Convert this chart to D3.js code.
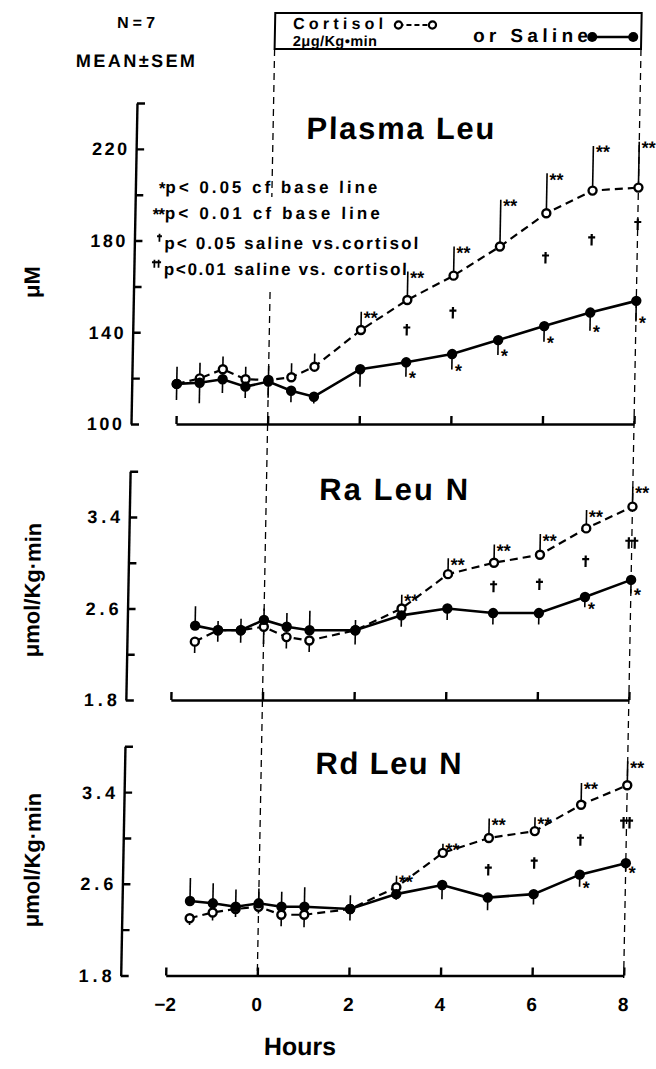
<!DOCTYPE html>
<html>
<head>
<meta charset="utf-8">
<script src="https://cdn.jsdelivr.net/npm/d3@7"></script>
<style>
body { margin: 0; background: #fff; }
text { font-family: "Liberation Sans", Arial, Helvetica, sans-serif; font-weight: bold; fill: #000; }
</style>
</head>
<body>
<svg id="chart" width="656" height="1069"></svg>
<script>
// time points (hours)
const hoursLeu = [-2, -1.5, -1, -0.5, 0, 0.5, 1, 2, 3, 4, 5, 6, 7, 8];
const hoursFlux = [-1.5, -1, -0.5, 0, 0.5, 1, 2, 3, 4, 5, 6, 7, 8];
const xTicks = [-2, 0, 2, 4, 6, 8];

// Plasma Leu (uM)
const leuSaline = [117.5, 118.0, 119.5, 116.3, 118.5, 114.5, 111.9, 123.9, 126.9, 130.5, 136.6, 142.7, 148.6, 153.7];
const leuSalineSem = [7, 9, 6, 5, 7, 5, 3, 7.6, 6.3, 6.7, 6.5, 6.8, 7.9, 9];
const leuSalineDir = [-1, -1, -1, -1, -1, -1, -1, -1, -1, -1, -1, -1, -1, -1];
const leuCortisol = [117.5, 119.9, 123.9, 119.5, 119.2, 120.4, 125.0, 141.0, 154.1, 164.7, 177.4, 191.9, 201.8, 203.1];
const leuCortisolSem = [7.5, 6.8, 5.5, 5.5, 6.1, 6.1, 5.8, 8, 12.4, 12.7, 20.4, 17.5, 19.5, 20];
const leuCortisolDir = [1, 1, 1, 1, 1, 1, 1, 1, 1, 1, 1, 1, 1, 1];
const leuCortStars = [2, 3, 4, 5, 6, 7, 8];
const leuSalStars = [3, 4, 5, 6, 7, 8];
const leuDaggerT = [3, 4, 6, 7, 8];
const leuDaggerV = [141, 148.4, 172.4, 180.3, 187];
const leuDaggerN = [1, 1, 1, 1, 1];

// Ra Leu N (umol/Kg.min)
const raSaline = [2.45, 2.41, 2.41, 2.50, 2.44, 2.41, 2.41, 2.54, 2.60, 2.56, 2.56, 2.70, 2.85];
const raSalineSem = [0.17, 0.08, 0.10, 0.10, 0.12, 0.17, 0.09, 0.10, 0.10, 0.10, 0.10, 0.09, 0.12];
const raSalineDir = [1, 1, 1, 1, 1, 1, 1, -1, -1, -1, -1, -1, -1];
const raCortisol = [2.31, 2.41, 2.41, 2.44, 2.35, 2.32, 2.41, 2.60, 2.90, 3.00, 3.07, 3.30, 3.49];
const raCortisolSem = [0.10, 0.10, 0.11, 0.15, 0.10, 0.10, 0.125, 0.12, 0.14, 0.16, 0.18, 0.16, 0.175];
const raCortisolDir = [-1, -1, -1, -1, -1, -1, -1, 1, 1, 1, 1, 1, 1];
const raCortStars = [3, 4, 5, 6, 7, 8];
const raSalStars = [7, 8];
const raDaggerT = [5, 6, 7, 8];
const raDaggerV = [2.79, 2.81, 3.01, 3.17];
const raDaggerN = [1, 1, 1, 2];

// Rd Leu N (umol/Kg.min)
const rdSaline = [2.45, 2.43, 2.40, 2.43, 2.40, 2.40, 2.38, 2.51, 2.59, 2.48, 2.51, 2.68, 2.78];
const rdSalineSem = [0.20, 0.175, 0.15, 0.13, 0.13, 0.17, 0.12, 0.05, 0.125, 0.11, 0.09, 0.105, 0.07];
const rdSalineDir = [1, 1, 1, 1, 1, 1, 1, -1, -1, -1, -1, -1, -1];
const rdCortisol = [2.30, 2.35, 2.38, 2.40, 2.33, 2.33, 2.38, 2.57, 2.87, 3.00, 3.06, 3.29, 3.46];
const rdCortisolSem = [0.06, 0.07, 0.07, 0.06, 0.10, 0.11, 0.10, 0.10, 0.08, 0.17, 0.12, 0.19, 0.21];
const rdCortisolDir = [-1, -1, -1, -1, -1, -1, -1, 1, 1, 1, 1, 1, 1];
const rdCortStars = [3, 4, 5, 6, 7, 8];
const rdSalStars = [7, 8];
const rdDaggerT = [5, 6, 7, 8];
const rdDaggerV = [2.72, 2.78, 2.98, 3.13];
const rdDaggerN = [1, 1, 1, 2];

// significance notes: star mark or number of daggers, then the text
const noteMarks = ['*', '**', 1, 2];
const noteTexts = ['p< 0.05  cf base line', 'p< 0.01  cf base line',
                   'p< 0.05  saline  vs.cortisol', 'p<0.01  saline  vs. cortisol'];

const svg = d3.select('#chart');
svg.append('rect').attr('width', 656).attr('height', 1069).attr('fill', '#fff');
// the scan is a little sheared, so draw everything in a slightly skewed frame
const root = svg.append('g').attr('transform', 'translate(7.92,0) skewX(-1.07)');

const x = d3.scaleLinear().domain([-2, 8]).range([176, 634]);
const axisPos = 131;

const panels = [
    {title: 'Plasma Leu', titleY: 139, titleLen: 188, domain: [100, 240], top: 103, bottom: 424,
     ticks: d3.range(100, 241, 20), labels: [100, 140, 180, 220], fmt: d3.format('d'), labelLen: 35,
     unit: 'μM', unitY: 282, unitX: 37,
     hours: hoursLeu, sal: leuSaline, salSem: leuSalineSem, salDir: leuSalineDir,
     cort: leuCortisol, cortSem: leuCortisolSem, cortDir: leuCortisolDir,
     cortStars: leuCortStars, salStars: leuSalStars, dagT: leuDaggerT, dagV: leuDaggerV, dagN: leuDaggerN},
    {title: 'Ra Leu N', titleY: 500, titleLen: 149, domain: [1.8, 3.8], top: 471.2, bottom: 700,
     ticks: [1.8, 2.2, 2.6, 3.0, 3.4, 3.8], labels: [1.8, 2.6, 3.4], fmt: d3.format('.1f'), labelLen: 33,
     unit: 'μmol/Kg·min', unitY: 590, unitX: 43,
     hours: hoursFlux, sal: raSaline, salSem: raSalineSem, salDir: raSalineDir,
     cort: raCortisol, cortSem: raCortisolSem, cortDir: raCortisolDir,
     cortStars: raCortStars, salStars: raSalStars, dagT: raDaggerT, dagV: raDaggerV, dagN: raDaggerN},
    {title: 'Rd Leu N', titleY: 774, titleLen: 146, domain: [1.8, 3.8], top: 746.3, bottom: 975.5,
     ticks: [1.8, 2.2, 2.6, 3.0, 3.4, 3.8], labels: [1.8, 2.6, 3.4], fmt: d3.format('.1f'), labelLen: 33,
     unit: 'μmol/Kg·min', unitY: 860, unitX: 48, xLabels: true,
     hours: hoursFlux, sal: rdSaline, salSem: rdSalineSem, salDir: rdSalineDir,
     cort: rdCortisol, cortSem: rdCortisolSem, cortDir: rdCortisolDir,
     cortStars: rdCortStars, salStars: rdSalStars, dagT: rdDaggerT, dagV: rdDaggerV, dagN: rdDaggerN}
];

// dagger drawn as strokes (the font glyph renders with coloured fringes)
function dagger(g, cx, cy, n, size) {
    const s = size || 1;
    for (let k = 0; k < n; k++) {
        const dx = cx + (k - (n - 1) / 2) * 6 * s;
        g.append('path')
            .attr('d', `M${dx},${cy - 6 * s}V${cy + 5.5 * s}M${dx - 3.5 * s},${cy - 2.5 * s}H${dx + 3.5 * s}`)
            .attr('stroke', '#000').attr('stroke-width', 2.2 * Math.max(s, 0.8)).attr('fill', 'none');
    }
}

// dashed lines at start and end of infusion
function vdash(t, y1, y2) {
    root.append('line')
        .attr('x1', x(t)).attr('x2', x(t)).attr('y1', y1).attr('y2', y2)
        .attr('stroke', '#000').attr('stroke-width', 1.3).attr('stroke-dasharray', '7,5');
}
vdash(0, 49, 197);
vdash(0, 292, 976);
vdash(8, 49, 978);

function drawPanel(p) {
    const y = d3.scaleLinear().domain(p.domain).range([p.bottom, p.top]);
    const g = root.append('g');

    g.append('g').attr('transform', `translate(${axisPos},0)`)
        .call(d3.axisRight(y).tickValues(p.ticks).tickSize(8).tickSizeOuter(0).tickFormat(''))
        .call(a => a.selectAll('path, line').attr('stroke', '#000').attr('stroke-width', 2.4));

    g.selectAll('.ylab').data(p.labels).join('text')
        .attr('x', axisPos - 9).attr('y', d => y(d)).attr('dy', '0.36em')
        .attr('text-anchor', 'end').attr('font-size', 18)
        .attr('textLength', p.labelLen).attr('lengthAdjust', 'spacing')
        .text(p.fmt);

    g.append('g').attr('transform', `translate(0,${p.bottom})`)
        .call(d3.axisTop(x).tickValues(xTicks).tickSize(8).tickSizeOuter(0).tickFormat(''))
        .call(a => a.selectAll('path, line').attr('stroke', '#000').attr('stroke-width', 2.4));

    if (p.xLabels) {
        g.selectAll('.xlab').data(xTicks).join('text')
            .attr('x', d => x(d)).attr('y', p.bottom + 36)
            .attr('text-anchor', 'middle').attr('font-size', 19)
            .text(d => d < 0 ? '−' + Math.abs(d) : d);
    }

    g.append('text')
        .attr('x', x(2.78)).attr('y', p.titleY)
        .attr('text-anchor', 'middle').attr('font-size', 31)
        .attr('textLength', p.titleLen).attr('lengthAdjust', 'spacing')
        .text(p.title);

    g.append('text')
        .attr('transform', `translate(${p.unitX},${p.unitY}) rotate(-90)`)
        .attr('text-anchor', 'middle').attr('font-size', 22)
        .text(p.unit);

    const sal = p.hours.map((t, i) => ({t, v: p.sal[i], sem: p.salSem[i], dir: p.salDir[i]}));
    const cort = p.hours.map((t, i) => ({t, v: p.cort[i], sem: p.cortSem[i], dir: p.cortDir[i]}));

    // SEM bars
    g.selectAll('.ebar').data(sal.concat(cort)).join('line')
        .attr('x1', d => x(d.t)).attr('x2', d => x(d.t))
        .attr('y1', d => y(d.v)).attr('y2', d => y(d.v + d.dir * d.sem))
        .attr('stroke', '#000').attr('stroke-width', 1.6);

    const line = d3.line().x(d => x(d.t)).y(d => y(d.v));

    g.append('path').datum(cort).attr('d', line)
        .attr('fill', 'none').attr('stroke', '#000').attr('stroke-width', 2.2)
        .attr('stroke-dasharray', '8,5');
    g.selectAll('.open').data(cort).join('circle')
        .attr('cx', d => x(d.t)).attr('cy', d => y(d.v)).attr('r', 4)
        .attr('fill', '#fff').attr('stroke', '#000').attr('stroke-width', 2.4);

    g.append('path').datum(sal).attr('d', line)
        .attr('fill', 'none').attr('stroke', '#000').attr('stroke-width', 2.6);
    g.selectAll('.filled').data(sal).join('circle')
        .attr('cx', d => x(d.t)).attr('cy', d => y(d.v)).attr('r', 5.2)
        .attr('fill', '#000');

    // significance marks
    const byT = arr => t => arr.find(d => d.t === t);
    g.selectAll('.cstar').data(p.cortStars.map(byT(cort))).join('text')
        .attr('x', d => x(d.t) + 2.5).attr('y', d => y(d.v + d.sem) + 12.5)
        .attr('font-size', 18).text('**');
    g.selectAll('.sstar').data(p.salStars.map(byT(sal))).join('text')
        .attr('x', d => x(d.t) + 3).attr('y', d => y(d.v - d.sem) + 7.5)
        .attr('font-size', 18).text('*');
    p.dagT.forEach((t, i) => dagger(g, x(t), y(p.dagV[i]), p.dagN[i]));
}

panels.forEach(drawPanel);

// significance notes inside the top panel
const notesY = [193, 219, 249, 275];
const notesLen = [213, 216, 255, 244];
const notes = root.append('g');
noteMarks.forEach((m, i) => {
    if (typeof m === 'string') {
        notes.append('text')
            .attr('x', 160).attr('y', notesY[i] + 1)
            .attr('text-anchor', 'end').attr('font-size', 17).attr('letter-spacing', -1)
            .text(m);
    } else {
        dagger(notes, 160 - 4 - (m - 1) * 2.5, notesY[i] - 11, m, 0.7);
    }
    notes.append('text')
        .attr('x', 161).attr('y', notesY[i]).attr('font-size', 17)
        .attr('textLength', notesLen[i] - 1).attr('lengthAdjust', 'spacing')
        .text(noteTexts[i]);
});

// header texts
root.append('text').attr('x', 128.5).attr('y', 28).attr('text-anchor', 'middle')
    .attr('font-size', 16).attr('textLength', 38).attr('lengthAdjust', 'spacing').text('N=7');
root.append('text').attr('x', 128.7).attr('y', 67).attr('text-anchor', 'middle')
    .attr('font-size', 18).attr('textLength', 119).attr('lengthAdjust', 'spacing').text('MEAN±SEM');

// legend box
const lg = root.append('g');
lg.append('rect').attr('x', x(0)).attr('y', 13).attr('width', x(8) - x(0)).attr('height', 36)
    .attr('fill', 'none').attr('stroke', '#000').attr('stroke-width', 2);
lg.append('text').attr('x', 285.6).attr('y', 29.5).attr('font-size', 16)
    .attr('textLength', 90).attr('lengthAdjust', 'spacing').text('Cortisol');
lg.append('text').attr('x', 285.8).attr('y', 46.5).attr('font-size', 14.5)
    .attr('textLength', 84).attr('lengthAdjust', 'spacing').text('2μg/Kg•min');
lg.append('text').attr('x', 465.8).attr('y', 42).attr('font-size', 19)
    .attr('textLength', 115).attr('lengthAdjust', 'spacing').text('or Saline');
lg.append('line').attr('x1', 391).attr('x2', 425).attr('y1', 25).attr('y2', 25)
    .attr('stroke', '#000').attr('stroke-width', 2).attr('stroke-dasharray', '5,3');
lg.selectAll('.lo').data([391, 425]).join('circle')
    .attr('cx', d => d).attr('cy', 25).attr('r', 3.6)
    .attr('fill', '#fff').attr('stroke', '#000').attr('stroke-width', 2.2);
lg.append('line').attr('x1', 585).attr('x2', 626).attr('y1', 37).attr('y2', 37)
    .attr('stroke', '#000').attr('stroke-width', 2.4);
lg.selectAll('.lf').data([585, 626]).join('circle')
    .attr('cx', d => d).attr('cy', 37).attr('r', 5)
    .attr('fill', '#000');

// x axis title
root.append('text').attr('x', 311.6).attr('y', 1055).attr('text-anchor', 'middle')
    .attr('font-size', 25).text('Hours');
</script>
</body>
</html>
